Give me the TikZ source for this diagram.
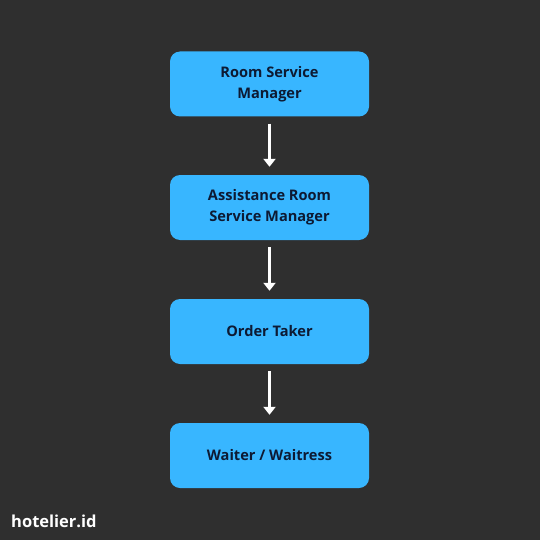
\documentclass[tikz,border=0pt]{standalone}
\usepackage{fontspec}
\setmainfont{Open Sans}
\usetikzlibrary{arrows.meta}
\definecolor{bg}{HTML}{2F2F2F}
\definecolor{boxblue}{HTML}{38B6FF}
\definecolor{txt}{HTML}{0D1A33}
\tikzset{
  rolebox/.style={fill=boxblue, rounded corners=10pt, minimum width=199pt, minimum height=65pt, inner sep=0pt, align=center, text=txt, font=\bfseries\fontsize{14.6}{21}\selectfont},
  conn/.style={draw=white, line width=3.2pt, -{Triangle[width=12pt,length=8pt]}, shorten <=7pt, shorten >=8pt}
}
\begin{document}
\begin{tikzpicture}[x=1pt,y=-1pt]
\fill[bg] (0,0) rectangle (540,540);
\useasboundingbox (0,0) rectangle (540,540);
\node[rolebox] (a) at (269.5,84) {Room Service\\Manager};
\node[rolebox] (b) at (269.5,207.5) {Assistance Room\\Service Manager};
\node[rolebox] (c) at (269.5,331.5) {Order Taker};
\node[rolebox] (d) at (269.5,455.5) {Waiter / Waitress};
\draw[conn] (a) -- (b);
\draw[conn] (b) -- (c);
\draw[conn] (c) -- (d);
\node[anchor=base west, inner sep=0pt, text=white, font=\bfseries\fontsize{16.5}{20}\selectfont] (logo) at (11,527) {hotelier.id};
\end{tikzpicture}
\end{document}
